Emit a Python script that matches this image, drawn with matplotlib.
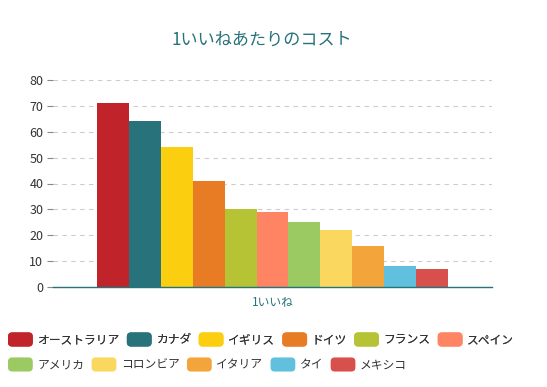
import matplotlib.pyplot as plt
import numpy as np
from matplotlib.patches import FancyBboxPatch
from matplotlib.legend_handler import HandlerPatch

plt.rcParams['font.family'] = ['Noto Sans CJK JP', 'DejaVu Sans']

countries = ["オーストラリア", "カナダ", "イギリス", "ドイツ", "フランス", "スペイン",
             "アメリカ", "コロンビア", "イタリア", "タイ", "メキシコ"]
costs = [71, 64, 54, 41, 30, 29, 25, 22, 16, 8, 7]
colors = ["#C1232B", "#27727B", "#FCCE10", "#E87C25", "#B5C334", "#FE8463",
          "#9BCA63", "#FAD860", "#F3A43B", "#60C0DD", "#D7504B"]
category = "1いいね"
title = "1いいねあたりのコスト"
teal = "#27727B"

fig = plt.figure(figsize=(5.47, 3.87), dpi=100)
ax = fig.add_axes([53/547, 100/387, 439/547, 207/387])

n = len(costs)
w = 0.8 / n
xs = (np.arange(n) - (n - 1) / 2) * w
bars = ax.bar(xs, costs, width=w, color=colors, edgecolor="none", zorder=3)

ax.set_xlim(-0.5, 0.5)
ax.set_ylim(0, 80)
ax.set_yticks(range(0, 81, 10))
ax.set_xticks([0])
ax.set_xticklabels([category], color=teal, fontsize=8.5)
ax.tick_params(axis="x", length=0, pad=6)
ax.tick_params(axis="y", length=4, color="#888888", labelcolor="#333333",
               labelsize=9, pad=3)
ax.grid(axis="y", color="#cccccc", linestyle=(0, (4, 4)), linewidth=0.8, zorder=0)
for s in ["left", "right", "top"]:
    ax.spines[s].set_visible(False)
ax.spines["bottom"].set_color(teal)
ax.spines["bottom"].set_linewidth(1)
ax.spines["bottom"].set_zorder(4)

fig.text(262/547, 1 - 40/387, title, ha="center", va="center", color=teal,
         fontsize=12.3)


def rounded(legend, orig_handle, xdescent, ydescent, width, height, fontsize):
    return FancyBboxPatch((-xdescent, -ydescent - 1), width, height + 2,
                          boxstyle="round,pad=0,rounding_size=3")


handler = {bars.patches[0].__class__: HandlerPatch(patch_func=rounded)}
handles = list(bars.patches)

kw = dict(frameon=False, fontsize=8.5, handlelength=2.1, handleheight=1.1,
          handletextpad=0.4, columnspacing=0.6, borderaxespad=0, borderpad=0,
          handler_map=handler, labelcolor="#333333")
leg1 = fig.legend(handles[:6], countries[:6], ncol=6, loc="center left",
                  bbox_to_anchor=(8/547, 1 - 340/387), **kw)
fig.add_artist(leg1)
leg2 = fig.legend(handles[6:], countries[6:], ncol=5, loc="center left",
                  bbox_to_anchor=(8/547, 1 - 365/387), **kw)

fig.savefig("out.png", dpi=100)
